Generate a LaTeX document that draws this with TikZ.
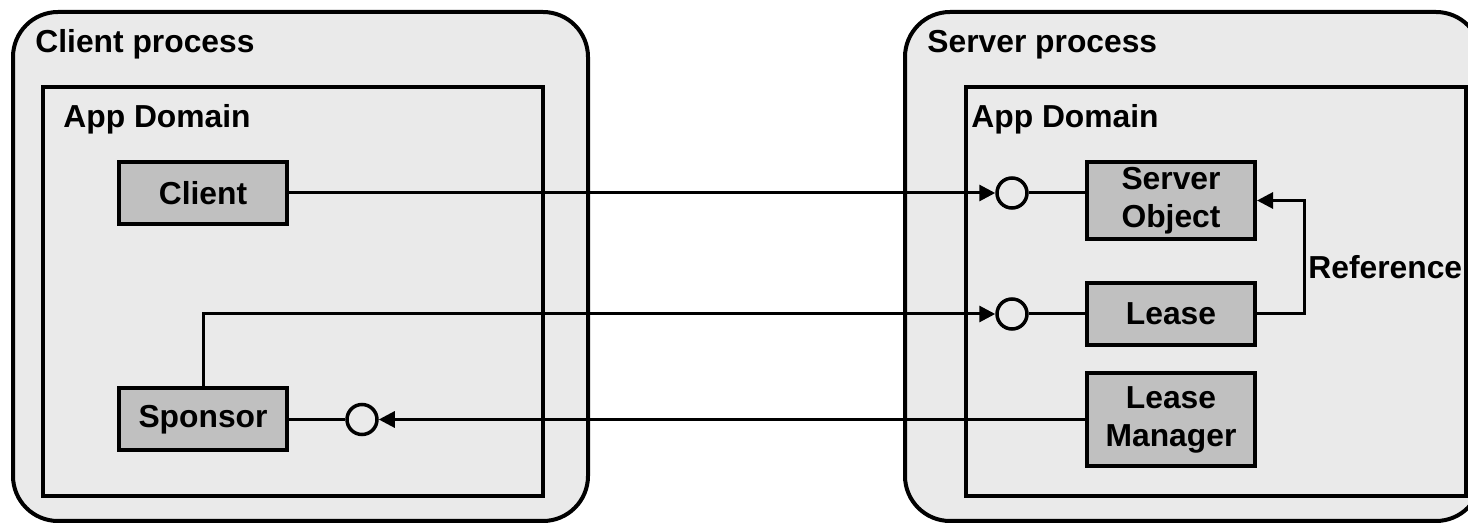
\documentclass[tikz,border=0pt]{standalone}
\usepackage{fontspec}
\setmainfont{Liberation Sans}
\usetikzlibrary{positioning}
\usetikzlibrary{arrows.meta}

\definecolor{procgray}{HTML}{EAEAEA}
\definecolor{objgray}{HTML}{C0C0C0}

\tikzset{
  process/.style={draw, line width=2pt, fill=procgray, rounded corners=22.5pt, inner sep=0pt},
  appdomain/.style={draw, line width=2pt, fill=procgray, inner sep=0pt},
  obj/.style={draw, line width=2pt, fill=objgray, minimum width=84pt, align=center, inner sep=0pt},
  port/.style={draw, circle, line width=1.75pt, minimum size=15pt, inner sep=0pt},
  boxtitle/.style={anchor=base west, inner sep=0pt},
  conn/.style={line width=1.5pt},
  call/.style={conn, -{Triangle[length=8pt,width=8pt]}},
}

\begin{document}
\begin{tikzpicture}[x=0.5pt,y=-0.5pt,font=\bfseries\fontsize{15.9}{19}\selectfont]
        \useasboundingbox (0,0) rectangle (1468,523);
        \clip (0,0) rectangle (1468,523);

        % Processes and domains
        \node[process,   minimum width=287.5pt, minimum height=254.5pt] (cproc) at (300.5,266.5) {};
        \node[process,   minimum width=288pt,   minimum height=254.5pt] (sproc) at (1193,266.5) {};
        \node[appdomain, minimum width=250pt,   minimum height=204.5pt] (cdom)  at (293,291.5) {};
        \node[appdomain, minimum width=250pt,   minimum height=204.5pt] (sdom)  at (1216,291.5) {};

        \node[boxtitle] (cproctitle) at (35,53)  {Client process};
        \node[boxtitle] (cdomtitle)  at (63,128) {App Domain};
        \node[boxtitle] (sproctitle) at (927,53) {Server process};
        \node[boxtitle] (sdomtitle)  at (971,128) {App Domain};

        % Objects
        \node[obj, minimum height=31pt]   (client)  at (203,193)    {Client};
        \node[obj, minimum height=31pt]   (sponsor) at (203,419.5)  {Sponsor};
        \node[obj, minimum height=38.5pt] (sobj)    at (1171,200.5) {Server\\Object};
        \node[obj, minimum height=31pt,   below=20pt of sobj]  (lease) {Lease};
        \node[obj, minimum height=46.5pt, below=12pt of lease] (lmgr)  {Lease\\Manager};

        % Ports
        \node[port] (soport)    at (1012,193)  {};
        \node[port] (leaseport) at (1012,314)  {};
        \node[port] (spport)    at (362,419.5) {};

        \node[boxtitle] (reflabel) at (1308,279) {Reference};

        % Connectors
        \draw[call] (client) -- (soport);
        \draw[conn] (soport.east) -- (soport.east -| sobj.west);
        \draw[call] (sponsor.north) |- (leaseport);
        \draw[conn] (leaseport) -- (lease);
        \draw[call] (lease.east) -- ++(47,0) |- (sobj.east);
        \draw[call] (lmgr) -- (spport);
        \draw[conn] (sponsor) -- (spport);
    \end{tikzpicture}
\end{document}
